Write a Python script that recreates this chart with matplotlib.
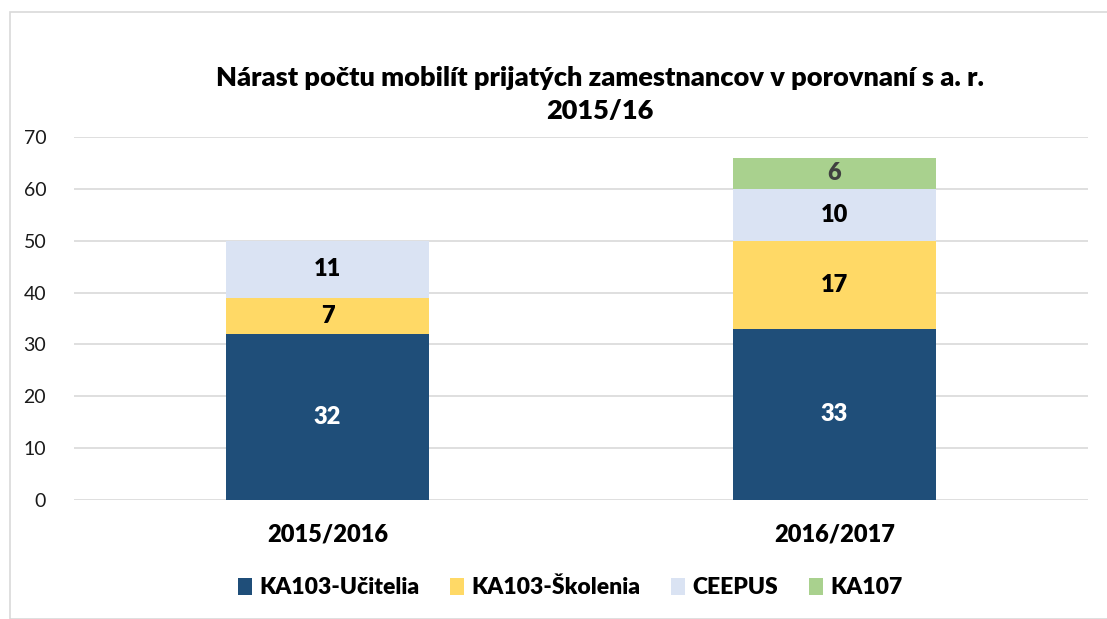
import matplotlib
matplotlib.use("Agg")
import matplotlib.pyplot as plt
from matplotlib.patches import Rectangle, Patch

categories = ["2015/2016", "2016/2017"]
series_names = ["KA103-Učitelia", "KA103-Školenia", "CEEPUS", "KA107"]
ucitelia = [32, 33]
skolenia = [7, 17]
ceepus = [11, 10]
ka107 = [0, 6]
series_values = [ucitelia, skolenia, ceepus, ka107]
colors = ["#1F4E79", "#FFD966", "#DAE3F3", "#A9D18E"]
label_colors = ["white", "black", "black", "#404040"]
title = "Nárast počtu mobilít prijatých zamestnancov v porovnaní s a. r.\n2015/16"

plt.rcParams['font.family'] = ['Lato', 'DejaVu Sans']

W, H = 1107, 619
fig = plt.figure(figsize=(W / 100, H / 100), dpi=100)
fig.patches.append(Rectangle((10 / W, 0), 1.2, 1 - 12 / H, transform=fig.transFigure,
                             fill=False, edgecolor="#D9D9D9", linewidth=1.2))

ax = fig.add_axes([74 / W, (H - 500) / H, (1088 - 74) / W, (500 - 137) / H])
x = list(range(len(categories)))
bottom = [0] * len(categories)
for name, vals, c, lc in zip(series_names, series_values, colors, label_colors):
    bars = ax.bar(x, vals, width=0.4, bottom=bottom, color=c, label=name, zorder=2)
    for xi, v, b in zip(x, vals, bottom):
        if v > 0:
            ax.text(xi, b + v / 2, str(v), ha="center", va="center",
                    fontsize=17, fontweight="heavy", color=lc, zorder=3)
    bottom = [b + v for b, v in zip(bottom, vals)]

ax.set_xlim(-0.5, 1.5)
ax.set_ylim(0, 70)
ax.set_yticks(range(0, 71, 10))
ax.yaxis.grid(True, color="#D9D9D9", linewidth=1.2, zorder=0)
ax.set_axisbelow(True)
for s in ax.spines.values():
    s.set_visible(False)
ax.tick_params(axis="y", length=0, pad=20, labelsize=14, labelcolor="#1a1a1a")
ax.tick_params(axis="x", length=0, pad=17)
ax.set_xticks(x)
ax.set_xticklabels(categories, fontsize=17, fontweight="heavy")

fig.text(0.542, 1 - 95 / H, title, ha="center", va="center", fontsize=19.5,
         fontweight="heavy", linespacing=1.45)

handles = [Patch(facecolor=c, label=n) for n, c in zip(series_names, colors)]
fig.legend(handles=handles, loc="center", bbox_to_anchor=(0.515, 1 - 588 / H), ncol=4,
           frameon=False, prop={"size": 16.5, "weight": "heavy"}, handlelength=0.62,
           handleheight=0.7, handletextpad=0.3, columnspacing=1.35)

fig.savefig("out.png", dpi=100, facecolor="white")
